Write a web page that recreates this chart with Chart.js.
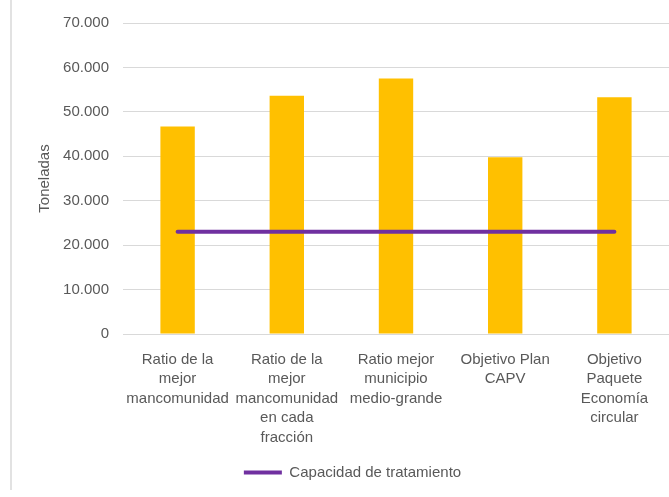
<!DOCTYPE html>
<html>
<head>
<meta charset="utf-8">
<script src="https://cdn.jsdelivr.net/npm/chart.js@4"></script>
<style>
  html, body { margin: 0; padding: 0; background: #fff; }
  #wrap { width: 669px; height: 497px; position: relative; }
</style>
</head>
<body>
<div id="wrap"><canvas id="chart"></canvas></div>
<script>
  // ---- data ----
  const categories = [
    ['Ratio de la', 'mejor', 'mancomunidad'],
    ['Ratio de la', 'mejor', 'mancomunidad', 'en cada', 'fracción'],
    ['Ratio mejor', 'municipio', 'medio-grande'],
    ['Objetivo Plan', 'CAPV'],
    ['Objetivo', 'Paquete', 'Economía', 'circular'],
  ];
  const toneladas = [46700, 53600, 57500, 39800, 53300];
  const capacidad = [23000, 23000, 23000, 23000, 23000];
  const yTicks = [0, 10000, 20000, 30000, 40000, 50000, 60000, 70000];

  const COLORS = {
    bar: '#FFC000',
    line: '#7030A0',
    text: '#595959',
    grid: '#D9D9D9',
  };
  const FONT = 'Liberation Sans, Arial, sans-serif';

  // es-ES style thousands separator
  const fmt = v => String(v).replace(/\B(?=(\d{3})+(?!\d))/g, '.');

  // light frame line on the left, like the cropped Excel chart border
  const framePlugin = {
    id: 'frameLine',
    afterLayout(chart) {
      // legend sits centred under the plot area, not the whole canvas
      chart.legend.left += 18;
      chart.legend.right += 18;
    },
    beforeDraw(chart) {
      const ctx = chart.ctx;
      ctx.save();
      ctx.strokeStyle = COLORS.grid;
      ctx.lineWidth = 1.5;
      ctx.beginPath();
      ctx.moveTo(11, 0);
      ctx.lineTo(11, 490);
      ctx.stroke();
      ctx.restore();
    },
  };

  new Chart(document.getElementById('chart'), {
    type: 'bar',
    data: {
      labels: categories,
      datasets: [
        {
          type: 'line',
          label: 'Capacidad de tratamiento',
          data: capacidad,
          borderColor: COLORS.line,
          backgroundColor: COLORS.line,
          borderWidth: 4,
          borderCapStyle: 'round',
          pointRadius: 0,
          order: 0,
        },
        {
          label: 'Toneladas',
          data: toneladas,
          backgroundColor: COLORS.bar,
          barPercentage: 0.315,
          categoryPercentage: 1,
          order: 1,
        },
      ],
    },
    plugins: [framePlugin],
    options: {
      responsive: true,
      maintainAspectRatio: false,
      animation: false,
      layout: { padding: { top: 14, right: 0, bottom: 7, left: 0 } },
      plugins: {
        tooltip: { enabled: false },
        legend: {
          position: 'bottom',
          labels: {
            filter: item => item.text === 'Capacidad de tratamiento',
            usePointStyle: true,
            pointStyle: 'line',
            pointStyleWidth: 38,
            color: COLORS.text,
            font: { family: FONT, size: 15 },
            padding: 10,
          },
        },
      },
      scales: {
        x: {
          grid: { display: false },
          border: { display: false },
          ticks: {
            color: COLORS.text,
            font: { family: FONT, size: 15, lineHeight: '19.5px' },
            maxRotation: 0,
            autoSkip: false,
            padding: 8,
          },
          afterFit(scale) { scale.height = 121; },
        },
        y: {
          min: 0,
          max: 70000,
          afterBuildTicks(scale) { scale.ticks = yTicks.map(v => ({ value: v })); },
          grid: { color: COLORS.grid, lineWidth: 1, drawTicks: false },
          border: { display: false },
          ticks: {
            color: COLORS.text,
            font: { family: FONT, size: 15 },
            padding: 14,
            callback: v => fmt(v),
          },
          title: {
            display: true,
            text: 'Toneladas',
            color: COLORS.text,
            font: { family: FONT, size: 15 },
            padding: { top: 36, bottom: 0 },
          },
          afterFit(scale) { scale.width = 123; },
        },
      },
    },
  });
</script>
</body>
</html>
